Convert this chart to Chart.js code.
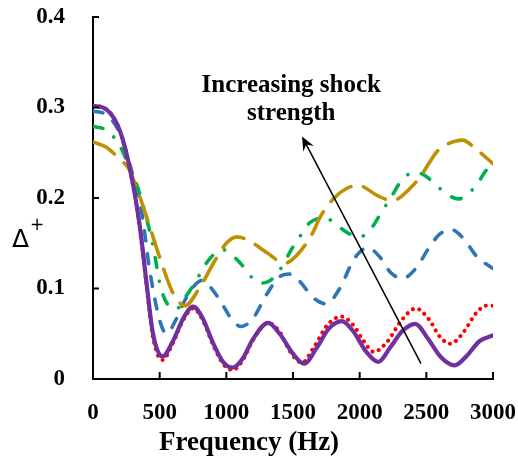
<!DOCTYPE html>
<html>
<head>
<meta charset="utf-8">
<script src="https://cdn.jsdelivr.net/npm/chart.js@4.4.0/dist/chart.umd.min.js"></script>
<style>
  html, body { margin: 0; padding: 0; background: #fff; }
  #wrap { width: 518px; height: 459px; position: relative; }
</style>
</head>
<body>
<div id="wrap"><canvas id="chart"></canvas></div>
<script>
// axis ticks
const xTicks = [0, 500, 1000, 1500, 2000, 2500, 3000];
const yTicks = [0, 0.1, 0.2, 0.3, 0.4];

// series (frequency in Hz, value of delta+)
const purpleFreq = [0, 100, 200, 276, 350, 400, 450, 521, 600, 680, 751, 820, 900, 980, 1047, 1120, 1200, 1313, 1400, 1500, 1583, 1680, 1770, 1866, 1950, 2050, 2140, 2230, 2320, 2417, 2510, 2610, 2712, 2800, 2900, 3000];
const purpleVals = [0.302, 0.298, 0.275, 0.233, 0.17, 0.108, 0.05, 0.025, 0.042, 0.068, 0.08, 0.068, 0.04, 0.018, 0.0125, 0.022, 0.044, 0.062, 0.05, 0.028, 0.017, 0.035, 0.056, 0.064, 0.053, 0.03, 0.019, 0.035, 0.053, 0.061, 0.045, 0.024, 0.015, 0.025, 0.042, 0.048];

const redFreq = [0, 100, 200, 276, 350, 400, 450, 521, 600, 680, 751, 820, 900, 980, 1047, 1120, 1200, 1313, 1400, 1480, 1566, 1660, 1760, 1862, 1950, 2030, 2105, 2200, 2320, 2420, 2520, 2600, 2680, 2770, 2880, 2950, 3000];
const redVals = [0.302, 0.298, 0.275, 0.232, 0.168, 0.105, 0.046, 0.021, 0.04, 0.066, 0.078, 0.066, 0.038, 0.016, 0.01, 0.02, 0.043, 0.062, 0.052, 0.03, 0.018, 0.036, 0.06, 0.069, 0.06, 0.042, 0.03, 0.04, 0.066, 0.078, 0.066, 0.047, 0.039, 0.05, 0.074, 0.081, 0.081];

const blueFreq = [0, 100, 200, 280, 370, 420, 500, 551, 620, 700, 820, 900, 960, 1045, 1110, 1200, 1300, 1400, 1470, 1550, 1650, 1750, 1850, 1960, 2060, 2150, 2230, 2320, 2420, 2520, 2600, 2690, 2780, 2880, 3000];
const blueVals = [0.296, 0.292, 0.272, 0.235, 0.18, 0.125, 0.065, 0.05, 0.065, 0.09, 0.109, 0.098, 0.085, 0.065, 0.058, 0.067, 0.093, 0.113, 0.116, 0.108, 0.09, 0.083, 0.1, 0.133, 0.145, 0.135, 0.118, 0.111, 0.122, 0.145, 0.16, 0.165, 0.155, 0.135, 0.122];

const greenFreq = [0, 100, 200, 270, 350, 450, 510, 580, 620, 700, 771, 850, 970, 1065, 1140, 1210, 1260, 1320, 1390, 1500, 1550, 1620, 1740, 1815, 1904, 2000, 2090, 2150, 2240, 2327, 2430, 2515, 2605, 2740, 2875, 2940, 3000];
const greenVals = [0.279, 0.275, 0.258, 0.235, 0.205, 0.147, 0.1, 0.079, 0.077, 0.092, 0.108, 0.128, 0.143, 0.134, 0.122, 0.109, 0.106, 0.108, 0.118, 0.146, 0.157, 0.172, 0.178, 0.172, 0.162, 0.157, 0.167, 0.181, 0.202, 0.222, 0.228, 0.222, 0.21, 0.199, 0.214, 0.229, 0.239];

const goldFreq = [0, 100, 200, 270, 330, 400, 510, 600, 690, 800, 915, 1000, 1080, 1180, 1300, 1440, 1530, 1650, 1700, 1830, 1990, 2130, 2240, 2400, 2470, 2590, 2700, 2770, 2880, 3000];
const goldVals = [0.262, 0.256, 0.243, 0.232, 0.21, 0.18, 0.13, 0.095, 0.081, 0.101, 0.131, 0.15, 0.157, 0.152, 0.14, 0.128, 0.137, 0.162, 0.178, 0.203, 0.214, 0.203, 0.197, 0.214, 0.227, 0.253, 0.262, 0.264, 0.253, 0.238];

const toPoints = (fs, vs) => fs.map((f, i) => ({ x: f, y: vs[i] }));

const serif = '"Liberation Serif", "DejaVu Serif", serif';

function line(label, fs, vs, color, width, dash) {
  return {
    label: label,
    data: toPoints(fs, vs),
    showLine: true,
    borderColor: color,
    backgroundColor: color,
    borderWidth: width,
    borderDash: dash,
    borderCapStyle: 'round',
    borderJoinStyle: 'round',
    pointRadius: 0,
    cubicInterpolationMode: 'monotone',
    fill: false
  };
}

// stop tick labels from pushing the plot area in
const noPad = s => { s.paddingTop = 0; s.paddingBottom = 0; s.paddingLeft = 0; s.paddingRight = 0; };

// extra bits: inward tick marks, axis titles, annotation + arrow
const extras = {
  id: 'extras',
  afterDraw(chart) {
    const ctx = chart.ctx;
    const xs = chart.scales.x, ys = chart.scales.y;
    const area = chart.chartArea;
    ctx.save();
    ctx.strokeStyle = '#000';
    ctx.lineWidth = 2;
    xTicks.forEach(t => {
      const px = xs.getPixelForValue(t);
      ctx.beginPath();
      ctx.moveTo(px, area.bottom);
      ctx.lineTo(px, area.bottom - 7);
      ctx.stroke();
    });
    yTicks.forEach(t => {
      const py = ys.getPixelForValue(t);
      ctx.beginPath();
      ctx.moveTo(area.left, py);
      ctx.lineTo(area.left + 6, py);
      ctx.stroke();
    });

    ctx.fillStyle = '#000';
    // x title
    ctx.font = 'bold 27px ' + serif;
    ctx.textAlign = 'center';
    ctx.textBaseline = 'alphabetic';
    ctx.fillText('Frequency (Hz)', 249, 450);

    // y title
    ctx.textAlign = 'left';
    ctx.font = '25px "DejaVu Sans", sans-serif';
    ctx.fillText('Δ', 12, 247);
    ctx.font = '17px "DejaVu Sans", sans-serif';
    ctx.fillText('+', 30, 230);

    // annotation
    const tx = xs.getPixelForValue(1487);
    ctx.textAlign = 'center';
    ctx.font = 'bold 25px ' + serif;
    ctx.fillText('Increasing shock', tx, ys.getPixelForValue(0.317));
    ctx.fillText('strength', tx, ys.getPixelForValue(0.286));

    // arrow
    const x0 = xs.getPixelForValue(2460), y0 = ys.getPixelForValue(0.017);
    const x1 = xs.getPixelForValue(1568), y1 = ys.getPixelForValue(0.268);
    const ang = Math.atan2(y1 - y0, x1 - x0);
    ctx.lineWidth = 1.5;
    ctx.beginPath();
    ctx.moveTo(x0, y0);
    ctx.lineTo(x1 - 8 * Math.cos(ang), y1 - 8 * Math.sin(ang));
    ctx.stroke();
    ctx.beginPath();
    ctx.moveTo(x1, y1);
    ctx.lineTo(x1 - 14 * Math.cos(ang) + 6 * Math.sin(ang), y1 - 14 * Math.sin(ang) - 6 * Math.cos(ang));
    ctx.lineTo(x1 - 9 * Math.cos(ang), y1 - 9 * Math.sin(ang));
    ctx.lineTo(x1 - 14 * Math.cos(ang) - 6 * Math.sin(ang), y1 - 14 * Math.sin(ang) + 6 * Math.cos(ang));
    ctx.closePath();
    ctx.fill();
    ctx.restore();
  }
};

new Chart(document.getElementById('chart'), {
  type: 'scatter',
  data: {
    datasets: [
      line('purple', purpleFreq, purpleVals, '#7030A0', 4.2, []),
      line('red', redFreq, redVals, '#FF0000', 4, [0.1, 6.6]),
      line('gold', goldFreq, goldVals, '#BF9000', 3.6, [25, 13]),
      line('green', greenFreq, greenVals, '#00B050', 3.6, [10, 14, 0.1, 14]),
      line('blue', blueFreq, blueVals, '#2E75B6', 3.6, [10, 13])
    ]
  },
  options: {
    responsive: true,
    maintainAspectRatio: false,
    animation: false,
    layout: { padding: { left: 0, right: 25, top: 17, bottom: 0 } },
    plugins: { legend: { display: false }, tooltip: { enabled: false } },
    scales: {
      x: {
        type: 'linear',
        min: 0, max: 3000,
        afterFit: s => { s.height = 80; noPad(s); },
        grid: { display: false },
        border: { display: true, color: '#000', width: 2 },
        ticks: {
          stepSize: 500,
          padding: 12,
          maxRotation: 0,
          color: '#000',
          font: { family: serif, size: 23, weight: 'bold' },
          callback: v => String(v)
        }
      },
      y: {
        type: 'linear',
        min: 0, max: 0.4,
        afterFit: s => { s.width = 93; noPad(s); },
        grid: { display: false },
        border: { display: true, color: '#000', width: 2 },
        ticks: {
          stepSize: 0.1,
          padding: 20,
          color: '#000',
          font: { family: serif, size: 23, weight: 'bold' },
          callback: v => String(Math.round(v * 10) / 10)
        }
      }
    }
  },
  plugins: [extras]
});
</script>
</body>
</html>
